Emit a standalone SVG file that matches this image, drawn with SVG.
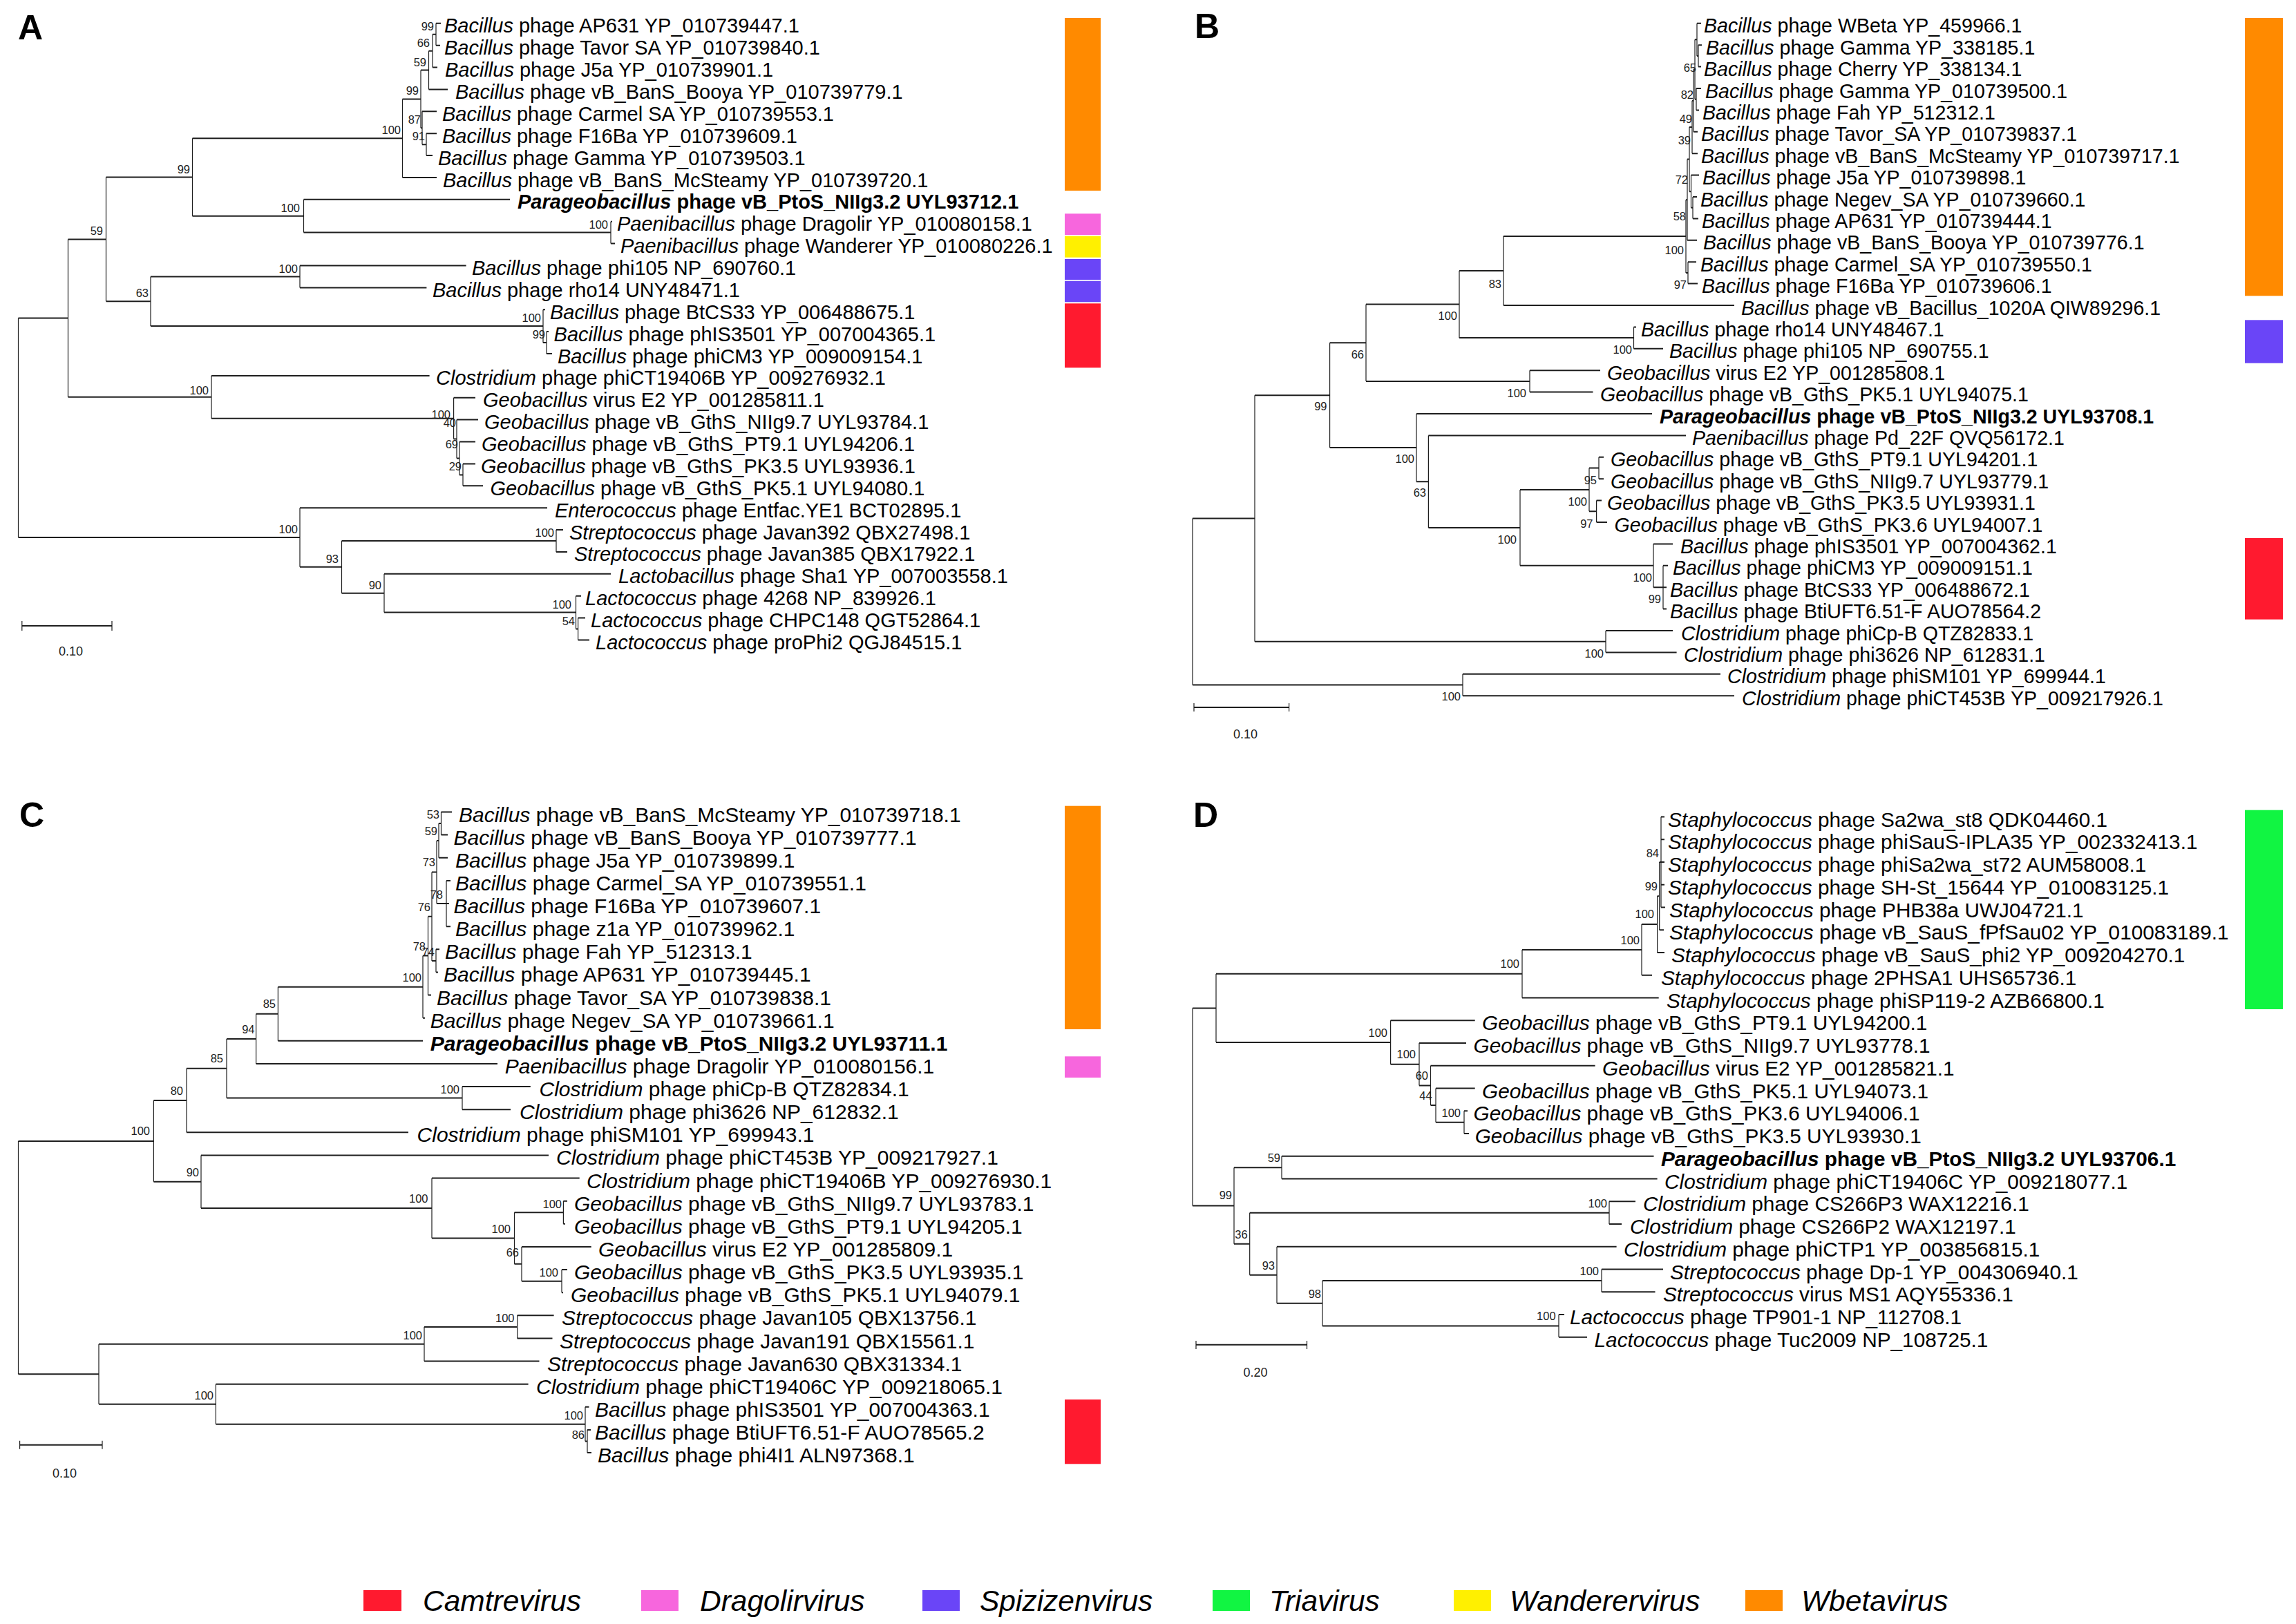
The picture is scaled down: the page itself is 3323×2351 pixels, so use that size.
<svg xmlns="http://www.w3.org/2000/svg" width="3323" height="2351" viewBox="0 0 3323 2351">
<style>
.h{stroke:#1e1e1e;stroke-width:2;fill:none}
.v{stroke:#1e1e1e;stroke-width:1.2;fill:none}
text{font-family:"Liberation Sans",Arial,sans-serif;fill:#000}
.la{font-size:29px}.lb{font-size:28.6px}.lc{font-size:30px}.ld{font-size:29.8px}
.i{font-style:italic}.b{font-weight:bold}
.bs{font-size:16.5px;text-anchor:end;fill:#222}
.sc{font-size:18px;text-anchor:middle;fill:#222}
.pl{font-size:50px;font-weight:bold}
.lg{font-size:42.5px;font-style:italic}
</style>
<rect width="3323" height="2351" fill="#fff"/>

<!-- ================= PANEL A ================= -->
<g id="panelA">
<text class="pl" x="26" y="57">A</text>
<g id="A-connectors">
<path class="h" d="M631 33.8H638M631 65.7H637M626 97.6H633M620.5 129.4H648M611 161.3H632M617 193.2H632M617 225.1H626M582.5 257H632M439.5 288.8H738M884 320.7H886M884 352.6H890M434 384.5H674.6M434 416.4H617.4M786 448.2H789M791 480.1H794M791 512H799M306 543.9H621.6M656.6 575.8H688M661 607.6H692M665 639.5H688M670 671.4H688M670 703.3H699M434 735.2H792M805 767H815M805 798.9H821M556 830.8H884M833.5 862.7H841M836.6 894.6H847M836.6 926.4H853
M626 49.75H631M620.5 73.7H626M609 101.5H620.5M611 209.2H617M609 185.2H611M582.5 143.4H609M278.5 200.2H582.5M439.5 336.6H884M278.5 312.7H439.5M153.5 256.5H278.5M218 400.5H434M786 496H791M218 472.1H786M153.5 436.3H218M98.5 346.4H153.5M665 687.4H670M661 663.5H665M656.6 635.6H661M306 605.7H656.6M98.5 574.8H306M26.5 460.6H98.5M833.5 910.5H836.6M556 886.6H833.5M494.5 783H805M494.5 858.7H556M434 820.8H494.5M26.5 778H434"/>
<path class="v" d="M631 33.8V65.7M626 49.75V97.6M620.5 73.7V129.4M617 193.2V225.1M611 161.3V209.2M609 101.5V185.2M582.5 143.4V257M884 320.7V352.6M439.5 288.8V336.6M278.5 200.2V312.7M434 384.5V416.4M791 480.1V512M786 448.2V496M218 400.5V472.1M153.5 256.5V436.3M670 671.4V703.3M665 639.5V687.4M661 607.6V663.5M656.6 575.8V635.6M306 543.9V605.7M98.5 346.4V574.8M836.6 894.6V926.4M833.5 862.7V910.5M805 767V798.9M556 830.8V886.6M494.5 783V858.7M434 735.2V820.8M26.5 460.6V778"/>
<path class="h" d="M31.8 906H162"/>
<path class="v" d="M31.8 899V913M162 899V913"/>
</g>
<text class="sc" x="102.5" y="949">0.10</text>
<g id="A-bootstrap">
<g id="A-n1"><text class="bs" x="628" y="43.7">99</text></g>
<g id="A-n2"><text class="bs" x="622" y="67.7">66</text></g>
<g id="A-n3"><text class="bs" x="617" y="95.5">59</text></g>
<g id="A-n4"><text class="bs" x="606" y="137.4">99</text></g>
<g id="A-n5"><text class="bs" x="609" y="179.2">87</text></g>
<g id="A-n6"><text class="bs" x="615" y="203.2">91</text></g>
<g id="A-n7"><text class="bs" x="580" y="194.2">100</text></g>
<g id="A-n8"><text class="bs" x="880" y="330.6">100</text></g>
<g id="A-n9"><text class="bs" x="434" y="306.7">100</text></g>
<g id="A-n10"><text class="bs" x="275" y="250.5">99</text></g>
<g id="A-n11"><text class="bs" x="431" y="394.5">100</text></g>
<g id="A-n12"><text class="bs" x="783" y="466.1">100</text></g>
<g id="A-n13"><text class="bs" x="789" y="490">99</text></g>
<g id="A-n14"><text class="bs" x="215" y="430.3">63</text></g>
<g id="A-n15"><text class="bs" x="149" y="340.4">59</text></g>
<g id="A-n16"><text class="bs" x="660" y="618">40</text></g>
<g id="A-n17"><text class="bs" x="663" y="649">69</text></g>
<g id="A-n18"><text class="bs" x="668" y="681.4">29</text></g>
<g id="A-n19"><text class="bs" x="652" y="606">100</text></g>
<g id="A-n20"><text class="bs" x="302" y="571">100</text></g>
<g id="A-n21"><text class="bs" x="832" y="904.5">54</text></g>
<g id="A-n22"><text class="bs" x="827" y="880.6">100</text></g>
<g id="A-n23"><text class="bs" x="802" y="777">100</text></g>
<g id="A-n24"><text class="bs" x="552" y="852.7">90</text></g>
<g id="A-n25"><text class="bs" x="490" y="814.8">93</text></g>
<g id="A-n26"><text class="bs" x="431" y="772">100</text></g>
</g>
<g id="A-leaves">
<g id="A-L0"><text class="la" x="643" y="47.3"><tspan class="i">Bacillus</tspan> phage AP631 YP_010739447.1</text></g>
<g id="A-L1"><text class="la" x="643" y="79.2"><tspan class="i">Bacillus</tspan> phage Tavor SA YP_010739840.1</text></g>
<g id="A-L2"><text class="la" x="644" y="111.1"><tspan class="i">Bacillus</tspan> phage J5a YP_010739901.1</text></g>
<g id="A-L3"><text class="la" x="659" y="142.9"><tspan class="i">Bacillus</tspan> phage vB_BanS_Booya YP_010739779.1</text></g>
<g id="A-L4"><text class="la" x="640" y="174.8"><tspan class="i">Bacillus</tspan> phage Carmel SA YP_010739553.1</text></g>
<g id="A-L5"><text class="la" x="640" y="206.7"><tspan class="i">Bacillus</tspan> phage F16Ba YP_010739609.1</text></g>
<g id="A-L6"><text class="la" x="634" y="238.6"><tspan class="i">Bacillus</tspan> phage Gamma YP_010739503.1</text></g>
<g id="A-L7"><text class="la" x="641" y="270.5"><tspan class="i">Bacillus</tspan> phage vB_BanS_McSteamy YP_010739720.1</text></g>
<g id="A-L8"><text class="la b" x="749" y="302.3"><tspan class="i">Parageobacillus</tspan> phage vB_PtoS_NIIg3.2 UYL93712.1</text></g>
<g id="A-L9"><text class="la" x="893" y="334.2"><tspan class="i">Paenibacillus</tspan> phage Dragolir YP_010080158.1</text></g>
<g id="A-L10"><text class="la" x="898" y="366.1"><tspan class="i">Paenibacillus</tspan> phage Wanderer YP_010080226.1</text></g>
<g id="A-L11"><text class="la" x="683" y="398"><tspan class="i">Bacillus</tspan> phage phi105 NP_690760.1</text></g>
<g id="A-L12"><text class="la" x="626" y="429.9"><tspan class="i">Bacillus</tspan> phage rho14 UNY48471.1</text></g>
<g id="A-L13"><text class="la" x="796" y="461.7"><tspan class="i">Bacillus</tspan> phage BtCS33 YP_006488675.1</text></g>
<g id="A-L14"><text class="la" x="801.6" y="493.6"><tspan class="i">Bacillus</tspan> phage phIS3501 YP_007004365.1</text></g>
<g id="A-L15"><text class="la" x="807" y="525.5"><tspan class="i">Bacillus</tspan> phage phiCM3 YP_009009154.1</text></g>
<g id="A-L16"><text class="la" x="631" y="557.4"><tspan class="i">Clostridium</tspan> phage phiCT19406B YP_009276932.1</text></g>
<g id="A-L17"><text class="la" x="699" y="589.3"><tspan class="i">Geobacillus</tspan> virus E2 YP_001285811.1</text></g>
<g id="A-L18"><text class="la" x="701" y="621.1"><tspan class="i">Geobacillus</tspan> phage vB_GthS_NIIg9.7 UYL93784.1</text></g>
<g id="A-L19"><text class="la" x="697" y="653"><tspan class="i">Geobacillus</tspan> phage vB_GthS_PT9.1 UYL94206.1</text></g>
<g id="A-L20"><text class="la" x="696" y="684.9"><tspan class="i">Geobacillus</tspan> phage vB_GthS_PK3.5 UYL93936.1</text></g>
<g id="A-L21"><text class="la" x="709.5" y="716.8"><tspan class="i">Geobacillus</tspan> phage vB_GthS_PK5.1 UYL94080.1</text></g>
<g id="A-L22"><text class="la" x="803" y="748.7"><tspan class="i">Enterococcus</tspan> phage Entfac.YE1 BCT02895.1</text></g>
<g id="A-L23"><text class="la" x="824" y="780.5"><tspan class="i">Streptococcus</tspan> phage Javan392 QBX27498.1</text></g>
<g id="A-L24"><text class="la" x="831" y="812.4"><tspan class="i">Streptococcus</tspan> phage Javan385 QBX17922.1</text></g>
<g id="A-L25"><text class="la" x="895" y="844.3"><tspan class="i">Lactobacillus</tspan> phage Sha1 YP_007003558.1</text></g>
<g id="A-L26"><text class="la" x="847" y="876.2"><tspan class="i">Lactococcus</tspan> phage 4268 NP_839926.1</text></g>
<g id="A-L27"><text class="la" x="855" y="908.1"><tspan class="i">Lactococcus</tspan> phage CHPC148 QGT52864.1</text></g>
<g id="A-L28"><text class="la" x="862" y="939.9"><tspan class="i">Lactococcus</tspan> phage proPhi2 QGJ84515.1</text></g>
</g>
<g id="A-bars">
<rect x="1541" y="26" width="52" height="250" fill="#FF8A00"/>
<rect x="1541" y="309.3" width="52" height="30.7" fill="#F766DD"/>
<rect x="1541" y="341.7" width="52" height="31" fill="#FFF000"/>
<rect x="1541" y="375" width="52" height="30" fill="#6A45F7"/>
<rect x="1541" y="406.7" width="52" height="30.6" fill="#6A45F7"/>
<rect x="1541" y="439.3" width="52" height="93" fill="#FF1A2F"/>
</g>
</g>

<!-- ================= PANEL B ================= -->
<g id="panelB">
<text class="pl" x="1729" y="55">B</text>
<g id="B-connectors">
<path class="h" d="M2456 33.8H2462M2458 65.2H2463M2458 96.6H2462M2455 128H2462M2455 159.4H2459M2451 190.8H2457M2449 222.2H2457M2447.5 253.6H2459M2450 285H2456M2450 316.4H2458M2442 347.8H2456M2443 379.2H2455M2443 410.6H2457M2176 442H2510M2364.5 473.4H2368M2364.5 504.8H2407M2214 536.2H2316M2214 567.6H2305.5M2050 599H2391M2067.4 630.4H2440M2314 661.8H2321M2314 693.2H2321M2310.6 724.6H2318M2310.6 756H2326M2393 787.4H2421M2407 818.8H2414M2407 850.2H2412M2407 881.6H2412M2324 913H2421M2324 944.4H2426.6M2117 975.8H2490M2117 1007.2H2510
M2456 80.9H2458M2453 57.35H2456M2453 143.7H2455M2451 100.5H2453M2449 145.7H2451M2445 184H2449M2447.5 300.7H2450M2445 277.2H2447.5M2442 230.6H2445M2440 289.2H2442M2440 394.9H2443M2176 342H2440M2112 392H2176M2112 489.1H2364.5M1977 440.6H2112M1977 551.9H2214M1924.6 496.2H1977M2300 677.5H2314M2300 740.3H2310.6M2200 708.9H2300M2393 850.2H2407M2200 818.8H2393M2067.4 763.9H2200M2050 697.2H2067.4M1924.6 648.1H2050M1816 572.2H1924.6M1816 928.7H2324M1726 750.5H1816M1726 991.5H2117"/>
<path class="v" d="M2458 65.2V96.6M2456 33.8V80.9M2455 128V159.4M2453 57.35V143.7M2451 100.5V190.8M2449 145.7V222.2M2450 285V316.4M2447.5 253.6V300.7M2445 184V277.2M2442 230.6V347.8M2443 379.2V410.6M2440 289.2V394.9M2176 342V442M2364.5 473.4V504.8M2112 392V489.1M2214 536.2V567.6M1977 440.6V551.9M2314 661.8V693.2M2310.6 724.6V756M2300 677.5V740.3M2407 818.8V881.6M2393 787.4V850.2M2200 708.9V818.8M2067.4 630.4V763.9M2050 599V697.2M1924.6 496.2V648.1M2324 913V944.4M1816 572.2V928.7M2117 975.8V1007.2M1726 750.5V991.5"/>
<path class="h" d="M1728 1024H1865.6"/>
<path class="v" d="M1728 1018V1030M1865.6 1018V1030"/>
</g>
<text class="sc" x="1802.5" y="1069">0.10</text>
<g id="B-bootstrap">
<g id="B-n1"><text class="bs" x="2455" y="103.7">65</text></g>
<g id="B-n2"><text class="bs" x="2451" y="142.7">82</text></g>
<g id="B-n3"><text class="bs" x="2449" y="177.7">49</text></g>
<g id="B-n4"><text class="bs" x="2447" y="209">39</text></g>
<g id="B-n5"><text class="bs" x="2443" y="266">72</text></g>
<g id="B-n6"><text class="bs" x="2440" y="319.3">58</text></g>
<g id="B-n7"><text class="bs" x="2437" y="367.7">100</text></g>
<g id="B-n8"><text class="bs" x="2441" y="417.7">97</text></g>
<g id="B-n9"><text class="bs" x="2173" y="417">83</text></g>
<g id="B-n10"><text class="bs" x="2109" y="463">100</text></g>
<g id="B-n11"><text class="bs" x="2362" y="511.7">100</text></g>
<g id="B-n12"><text class="bs" x="1974" y="518.7">66</text></g>
<g id="B-n13"><text class="bs" x="2209" y="575">100</text></g>
<g id="B-n14"><text class="bs" x="1920.5" y="594">99</text></g>
<g id="B-n15"><text class="bs" x="2047" y="670">100</text></g>
<g id="B-n16"><text class="bs" x="2064" y="719">63</text></g>
<g id="B-n17"><text class="bs" x="2297" y="732">100</text></g>
<g id="B-n18"><text class="bs" x="2311" y="701">95</text></g>
<g id="B-n19"><text class="bs" x="2305.5" y="763.7">97</text></g>
<g id="B-n20"><text class="bs" x="2195" y="786.7">100</text></g>
<g id="B-n21"><text class="bs" x="2391" y="842">100</text></g>
<g id="B-n22"><text class="bs" x="2404" y="873">99</text></g>
<g id="B-n23"><text class="bs" x="2321" y="952">100</text></g>
<g id="B-n24"><text class="bs" x="2114" y="1014">100</text></g>
</g>
<g id="B-leaves">
<g id="B-L0"><text class="lb" x="2466" y="47.3"><tspan class="i">Bacillus</tspan> phage WBeta YP_459966.1</text></g>
<g id="B-L1"><text class="lb" x="2469" y="78.7"><tspan class="i">Bacillus</tspan> phage Gamma YP_338185.1</text></g>
<g id="B-L2"><text class="lb" x="2466" y="110.1"><tspan class="i">Bacillus</tspan> phage Cherry YP_338134.1</text></g>
<g id="B-L3"><text class="lb" x="2468" y="141.5"><tspan class="i">Bacillus</tspan> phage Gamma YP_010739500.1</text></g>
<g id="B-L4"><text class="lb" x="2464" y="172.9"><tspan class="i">Bacillus</tspan> phage Fah YP_512312.1</text></g>
<g id="B-L5"><text class="lb" x="2462" y="204.3"><tspan class="i">Bacillus</tspan> phage Tavor_SA YP_010739837.1</text></g>
<g id="B-L6"><text class="lb" x="2462" y="235.7"><tspan class="i">Bacillus</tspan> phage vB_BanS_McSteamy YP_010739717.1</text></g>
<g id="B-L7"><text class="lb" x="2464" y="267.1"><tspan class="i">Bacillus</tspan> phage J5a YP_010739898.1</text></g>
<g id="B-L8"><text class="lb" x="2461" y="298.5"><tspan class="i">Bacillus</tspan> phage Negev_SA YP_010739660.1</text></g>
<g id="B-L9"><text class="lb" x="2463" y="329.9"><tspan class="i">Bacillus</tspan> phage AP631 YP_010739444.1</text></g>
<g id="B-L10"><text class="lb" x="2465" y="361.3"><tspan class="i">Bacillus</tspan> phage vB_BanS_Booya YP_010739776.1</text></g>
<g id="B-L11"><text class="lb" x="2461" y="392.7"><tspan class="i">Bacillus</tspan> phage Carmel_SA YP_010739550.1</text></g>
<g id="B-L12"><text class="lb" x="2463" y="424.1"><tspan class="i">Bacillus</tspan> phage F16Ba YP_010739606.1</text></g>
<g id="B-L13"><text class="lb" x="2520" y="455.5"><tspan class="i">Bacillus</tspan> phage vB_Bacillus_1020A QIW89296.1</text></g>
<g id="B-L14"><text class="lb" x="2375" y="486.9"><tspan class="i">Bacillus</tspan> phage rho14 UNY48467.1</text></g>
<g id="B-L15"><text class="lb" x="2416" y="518.3"><tspan class="i">Bacillus</tspan> phage phi105 NP_690755.1</text></g>
<g id="B-L16"><text class="lb" x="2326" y="549.7"><tspan class="i">Geobacillus</tspan> virus E2 YP_001285808.1</text></g>
<g id="B-L17"><text class="lb" x="2316" y="581.1"><tspan class="i">Geobacillus</tspan> phage vB_GthS_PK5.1 UYL94075.1</text></g>
<g id="B-L18"><text class="lb b" x="2402" y="612.5"><tspan class="i">Parageobacillus</tspan> phage vB_PtoS_NIIg3.2 UYL93708.1</text></g>
<g id="B-L19"><text class="lb" x="2449" y="643.9"><tspan class="i">Paenibacillus</tspan> phage Pd_22F QVQ56172.1</text></g>
<g id="B-L20"><text class="lb" x="2331" y="675.3"><tspan class="i">Geobacillus</tspan> phage vB_GthS_PT9.1 UYL94201.1</text></g>
<g id="B-L21"><text class="lb" x="2331" y="706.7"><tspan class="i">Geobacillus</tspan> phage vB_GthS_NIIg9.7 UYL93779.1</text></g>
<g id="B-L22"><text class="lb" x="2326" y="738.1"><tspan class="i">Geobacillus</tspan> phage vB_GthS_PK3.5 UYL93931.1</text></g>
<g id="B-L23"><text class="lb" x="2336.5" y="769.5"><tspan class="i">Geobacillus</tspan> phage vB_GthS_PK3.6 UYL94007.1</text></g>
<g id="B-L24"><text class="lb" x="2432" y="800.9"><tspan class="i">Bacillus</tspan> phage phIS3501 YP_007004362.1</text></g>
<g id="B-L25"><text class="lb" x="2421" y="832.3"><tspan class="i">Bacillus</tspan> phage phiCM3 YP_009009151.1</text></g>
<g id="B-L26"><text class="lb" x="2417" y="863.7"><tspan class="i">Bacillus</tspan> phage BtCS33 YP_006488672.1</text></g>
<g id="B-L27"><text class="lb" x="2417" y="895.1"><tspan class="i">Bacillus</tspan> phage BtiUFT6.51-F AUO78564.2</text></g>
<g id="B-L28"><text class="lb" x="2433" y="926.5"><tspan class="i">Clostridium</tspan> phage phiCp-B QTZ82833.1</text></g>
<g id="B-L29"><text class="lb" x="2437" y="957.9"><tspan class="i">Clostridium</tspan> phage phi3626 NP_612831.1</text></g>
<g id="B-L30"><text class="lb" x="2500" y="989.3"><tspan class="i">Clostridium</tspan> phage phiSM101 YP_699944.1</text></g>
<g id="B-L31"><text class="lb" x="2521" y="1020.7"><tspan class="i">Clostridium</tspan> phage phiCT453B YP_009217926.1</text></g>
</g>
<g id="B-bars">
<rect x="3249" y="26" width="55" height="402.3" fill="#FF8A00"/>
<rect x="3249" y="463.3" width="55" height="62.4" fill="#6A45F7"/>
<rect x="3249" y="779" width="55" height="117.7" fill="#FF1A2F"/>
</g>
</g>

<!-- ================= PANEL C ================= -->
<g id="panelC">
<text class="pl" x="28" y="1197">C</text>
<g id="C-connectors">
<path class="h" d="M638.5 1175.5H654M638.5 1208.6H648M635 1241.8H648M646 1274.9H652M646 1308H650M646 1341.2H652M631 1374.3H636M631 1407.4H634M619.5 1440.5H624M612 1473.7H615M402.4 1506.8H612M370.6 1539.9H720M669 1573H767.8M669 1606.2H739M270 1639.3H591M291 1672.4H794M625 1705.6H838.7M815.4 1738.7H821M815.4 1771.8H818M755 1804.9H855.7M813 1838.1H821M813 1871.2H815M748.7 1904.3H801.6M748.7 1937.5H799.5M614 1970.6H780.5M312.4 2003.7H764.6M847 2036.8H852.5M850 2070H855M850 2103.1H856
M635 1192.1H638.5M632 1217H635M632 1308.1H646M625 1262.5H632M625 1390.9H631M619.5 1326.7H625M612 1383.6H619.5M402.4 1428.7H612M370.6 1467.8H402.4M328 1503.9H370.6M328 1589.6H669M270 1546.8H328M222.4 1593H270M755 1854.7H813M744.5 1829.8H755M744.5 1755.3H815.4M625 1792.6H744.5M291 1749.1H625M222.4 1710.8H291M26.5 1651.9H222.4M614 1920.9H748.7M143 1945.8H614M847 2086.6H850M312.4 2061.7H847M143 2032.7H312.4M26.5 1989.3H143"/>
<path class="v" d="M638.5 1175.5V1208.6M635 1192.1V1241.8M646 1274.9V1341.2M632 1217V1308.1M631 1374.3V1407.4M625 1262.5V1390.9M619.5 1326.7V1440.5M612 1383.6V1473.7M402.4 1428.7V1506.8M370.6 1467.8V1539.9M669 1573V1606.2M328 1503.9V1589.6M270 1546.8V1639.3M813 1838.1V1871.2M755 1804.9V1854.7M815.4 1738.7V1771.8M744.5 1755.3V1829.8M625 1705.6V1792.6M291 1672.4V1749.1M222.4 1593V1710.8M748.7 1904.3V1937.5M614 1920.9V1970.6M850 2070V2103.1M847 2036.8V2086.6M312.4 2003.7V2061.7M143 1945.8V2032.7M26.5 1651.9V1989.3"/>
<path class="h" d="M28.6 2091.7H148"/>
<path class="v" d="M28.6 2085.7V2097.7M148 2085.7V2097.7"/>
</g>
<text class="sc" x="93.5" y="2139">0.10</text>
<g id="C-bootstrap">
<g id="C-n1"><text class="bs" x="636" y="1185">53</text></g>
<g id="C-n2"><text class="bs" x="633" y="1209">59</text></g>
<g id="C-n3"><text class="bs" x="630" y="1254">73</text></g>
<g id="C-n4"><text class="bs" x="641" y="1301">78</text></g>
<g id="C-n5"><text class="bs" x="623" y="1319">76</text></g>
<g id="C-n6"><text class="bs" x="616" y="1376">78</text></g>
<g id="C-n7"><text class="bs" x="629" y="1384">74</text></g>
<g id="C-n8"><text class="bs" x="610" y="1421">100</text></g>
<g id="C-n9"><text class="bs" x="399" y="1459">85</text></g>
<g id="C-n10"><text class="bs" x="368.5" y="1496">94</text></g>
<g id="C-n11"><text class="bs" x="323" y="1537.7">85</text></g>
<g id="C-n12"><text class="bs" x="665" y="1583">100</text></g>
<g id="C-n13"><text class="bs" x="265" y="1585">80</text></g>
<g id="C-n14"><text class="bs" x="217" y="1642.7">100</text></g>
<g id="C-n15"><text class="bs" x="288" y="1702.7">90</text></g>
<g id="C-n16"><text class="bs" x="619.5" y="1741">100</text></g>
<g id="C-n17"><text class="bs" x="813" y="1749">100</text></g>
<g id="C-n18"><text class="bs" x="739" y="1785">100</text></g>
<g id="C-n19"><text class="bs" x="751" y="1819">66</text></g>
<g id="C-n20"><text class="bs" x="808" y="1848">100</text></g>
<g id="C-n21"><text class="bs" x="744.5" y="1914">100</text></g>
<g id="C-n22"><text class="bs" x="611" y="1939">100</text></g>
<g id="C-n23"><text class="bs" x="309" y="2026">100</text></g>
<g id="C-n24"><text class="bs" x="844" y="2055">100</text></g>
<g id="C-n25"><text class="bs" x="846" y="2083">86</text></g>
</g>
<g id="C-leaves">
<g id="C-L0"><text class="lc" x="664" y="1189.5"><tspan class="i">Bacillus</tspan> phage vB_BanS_McSteamy YP_010739718.1</text></g>
<g id="C-L1"><text class="lc" x="656.6" y="1222.6"><tspan class="i">Bacillus</tspan> phage vB_BanS_Booya YP_010739777.1</text></g>
<g id="C-L2"><text class="lc" x="659" y="1255.8"><tspan class="i">Bacillus</tspan> phage J5a YP_010739899.1</text></g>
<g id="C-L3"><text class="lc" x="659" y="1288.9"><tspan class="i">Bacillus</tspan> phage Carmel_SA YP_010739551.1</text></g>
<g id="C-L4"><text class="lc" x="656.6" y="1322"><tspan class="i">Bacillus</tspan> phage F16Ba YP_010739607.1</text></g>
<g id="C-L5"><text class="lc" x="659" y="1355.2"><tspan class="i">Bacillus</tspan> phage z1a YP_010739962.1</text></g>
<g id="C-L6"><text class="lc" x="644" y="1388.3"><tspan class="i">Bacillus</tspan> phage Fah YP_512313.1</text></g>
<g id="C-L7"><text class="lc" x="642" y="1421.4"><tspan class="i">Bacillus</tspan> phage AP631 YP_010739445.1</text></g>
<g id="C-L8"><text class="lc" x="632" y="1454.5"><tspan class="i">Bacillus</tspan> phage Tavor_SA YP_010739838.1</text></g>
<g id="C-L9"><text class="lc" x="622.7" y="1487.7"><tspan class="i">Bacillus</tspan> phage Negev_SA YP_010739661.1</text></g>
<g id="C-L10"><text class="lc b" x="622.7" y="1520.8"><tspan class="i">Parageobacillus</tspan> phage vB_PtoS_NIIg3.2 UYL93711.1</text></g>
<g id="C-L11"><text class="lc" x="730.7" y="1553.9"><tspan class="i">Paenibacillus</tspan> phage Dragolir YP_010080156.1</text></g>
<g id="C-L12"><text class="lc" x="780.5" y="1587"><tspan class="i">Clostridium</tspan> phage phiCp-B QTZ82834.1</text></g>
<g id="C-L13"><text class="lc" x="752" y="1620.2"><tspan class="i">Clostridium</tspan> phage phi3626 NP_612832.1</text></g>
<g id="C-L14"><text class="lc" x="603.6" y="1653.3"><tspan class="i">Clostridium</tspan> phage phiSM101 YP_699943.1</text></g>
<g id="C-L15"><text class="lc" x="805" y="1686.4"><tspan class="i">Clostridium</tspan> phage phiCT453B YP_009217927.1</text></g>
<g id="C-L16"><text class="lc" x="849" y="1719.6"><tspan class="i">Clostridium</tspan> phage phiCT19406B YP_009276930.1</text></g>
<g id="C-L17"><text class="lc" x="831" y="1752.7"><tspan class="i">Geobacillus</tspan> phage vB_GthS_NIIg9.7 UYL93783.1</text></g>
<g id="C-L18"><text class="lc" x="831" y="1785.8"><tspan class="i">Geobacillus</tspan> phage vB_GthS_PT9.1 UYL94205.1</text></g>
<g id="C-L19"><text class="lc" x="866" y="1818.9"><tspan class="i">Geobacillus</tspan> virus E2 YP_001285809.1</text></g>
<g id="C-L20"><text class="lc" x="831" y="1852.1"><tspan class="i">Geobacillus</tspan> phage vB_GthS_PK3.5 UYL93935.1</text></g>
<g id="C-L21"><text class="lc" x="826" y="1885.2"><tspan class="i">Geobacillus</tspan> phage vB_GthS_PK5.1 UYL94079.1</text></g>
<g id="C-L22"><text class="lc" x="813" y="1918.3"><tspan class="i">Streptococcus</tspan> phage Javan105 QBX13756.1</text></g>
<g id="C-L23"><text class="lc" x="810" y="1951.5"><tspan class="i">Streptococcus</tspan> phage Javan191 QBX15561.1</text></g>
<g id="C-L24"><text class="lc" x="792" y="1984.6"><tspan class="i">Streptococcus</tspan> phage Javan630 QBX31334.1</text></g>
<g id="C-L25"><text class="lc" x="776" y="2017.7"><tspan class="i">Clostridium</tspan> phage phiCT19406C YP_009218065.1</text></g>
<g id="C-L26"><text class="lc" x="861" y="2050.8"><tspan class="i">Bacillus</tspan> phage phIS3501 YP_007004363.1</text></g>
<g id="C-L27"><text class="lc" x="861" y="2084"><tspan class="i">Bacillus</tspan> phage BtiUFT6.51-F AUO78565.2</text></g>
<g id="C-L28"><text class="lc" x="865" y="2117.1"><tspan class="i">Bacillus</tspan> phage phi4I1 ALN97368.1</text></g>
</g>
<g id="C-bars">
<rect x="1541" y="1166.7" width="52" height="323.3" fill="#FF8A00"/>
<rect x="1541" y="1529.3" width="52" height="30.7" fill="#F766DD"/>
<rect x="1541" y="2026" width="52" height="93.3" fill="#FF1A2F"/>
</g>
</g>

<!-- ================= PANEL D ================= -->
<g id="panelD">
<text class="pl" x="1727" y="1197">D</text>
<g id="D-connectors">
<path class="h" d="M2404 1182.5H2409M2404 1215.3H2409M2404 1248H2409M2404 1280.8H2409M2404 1313.5H2410M2401.7 1346.3H2408M2398.6 1379H2409M2376 1411.8H2391M2203 1444.5H2400.7M2012.6 1477.3H2134.7M2054 1510H2122M2070.5 1542.8H2308.6M2078 1575.5H2134.7M2119 1608.3H2124M2119 1641H2126M1855 1673.8H2393.5M1855 1706.5H2398.6M2329 1739.3H2367M2329 1772H2347M1848 1804.8H2339.6M2318 1837.5H2407M2318 1870.3H2395.5M2256 1903H2264M2256 1935.8H2297
M2401.7 1248H2404M2398.6 1297.2H2401.7M2376 1338.1H2398.6M2203 1375H2376M1760 1409.8H2203M2078 1624.7H2119M2070.5 1600.1H2078M2054 1571.5H2070.5M2012.6 1540.8H2054M1760 1509H2012.6M1726 1459.4H1760M1786 1690.2H1855M1808.7 1755.7H2329M1914 1853.9H2318M1914 1919.4H2256M1848 1886.7H1914M1808.7 1845.8H1848M1786 1800.8H1808.7M1726 1745.5H1786"/>
<path class="v" d="M2404 1182.5V1313.5M2401.7 1248V1346.3M2398.6 1297.2V1379M2376 1338.1V1411.8M2203 1375V1444.5M2119 1608.3V1641M2078 1575.5V1624.7M2070.5 1542.8V1600.1M2054 1510V1571.5M2012.6 1477.3V1540.8M1760 1409.8V1509M1855 1673.8V1706.5M2329 1739.3V1772M2318 1837.5V1870.3M2256 1903V1935.8M1914 1853.9V1919.4M1848 1804.8V1886.7M1808.7 1755.7V1845.8M1786 1690.2V1800.8M1726 1459.4V1745.5"/>
<path class="h" d="M1731 1946.7H1891.5"/>
<path class="v" d="M1731 1941V1953M1891.5 1941V1953"/>
</g>
<text class="sc" x="1817" y="1993">0.20</text>
<g id="D-bootstrap">
<g id="D-n1"><text class="bs" x="2401" y="1241">84</text></g>
<g id="D-n2"><text class="bs" x="2399" y="1289">99</text></g>
<g id="D-n3"><text class="bs" x="2394" y="1329">100</text></g>
<g id="D-n4"><text class="bs" x="2373" y="1367">100</text></g>
<g id="D-n5"><text class="bs" x="2199" y="1401">100</text></g>
<g id="D-n6"><text class="bs" x="2008" y="1501">100</text></g>
<g id="D-n7"><text class="bs" x="2049" y="1532">100</text></g>
<g id="D-n8"><text class="bs" x="2067" y="1563">60</text></g>
<g id="D-n9"><text class="bs" x="2072.6" y="1592">44</text></g>
<g id="D-n10"><text class="bs" x="2114" y="1617">100</text></g>
<g id="D-n11"><text class="bs" x="1853" y="1682">59</text></g>
<g id="D-n12"><text class="bs" x="1783" y="1736">99</text></g>
<g id="D-n13"><text class="bs" x="2326" y="1748">100</text></g>
<g id="D-n14"><text class="bs" x="1805.6" y="1793">36</text></g>
<g id="D-n15"><text class="bs" x="1845" y="1838">93</text></g>
<g id="D-n16"><text class="bs" x="2314" y="1846">100</text></g>
<g id="D-n17"><text class="bs" x="1912" y="1879">98</text></g>
<g id="D-n18"><text class="bs" x="2251.6" y="1911">100</text></g>
</g>
<g id="D-leaves">
<g id="D-L0"><text class="ld" x="2414" y="1196.5"><tspan class="i">Staphylococcus</tspan> phage Sa2wa_st8 QDK04460.1</text></g>
<g id="D-L1"><text class="ld" x="2414" y="1229.3"><tspan class="i">Staphylococcus</tspan> phage phiSauS-IPLA35 YP_002332413.1</text></g>
<g id="D-L2"><text class="ld" x="2414" y="1262"><tspan class="i">Staphylococcus</tspan> phage phiSa2wa_st72 AUM58008.1</text></g>
<g id="D-L3"><text class="ld" x="2414" y="1294.8"><tspan class="i">Staphylococcus</tspan> phage SH-St_15644 YP_010083125.1</text></g>
<g id="D-L4"><text class="ld" x="2416" y="1327.5"><tspan class="i">Staphylococcus</tspan> phage PHB38a UWJ04721.1</text></g>
<g id="D-L5"><text class="ld" x="2416" y="1360.3"><tspan class="i">Staphylococcus</tspan> phage vB_SauS_fPfSau02 YP_010083189.1</text></g>
<g id="D-L6"><text class="ld" x="2419" y="1393"><tspan class="i">Staphylococcus</tspan> phage vB_SauS_phi2 YP_009204270.1</text></g>
<g id="D-L7"><text class="ld" x="2404" y="1425.8"><tspan class="i">Staphylococcus</tspan> phage 2PHSA1 UHS65736.1</text></g>
<g id="D-L8"><text class="ld" x="2412" y="1458.5"><tspan class="i">Staphylococcus</tspan> phage phiSP119-2 AZB66800.1</text></g>
<g id="D-L9"><text class="ld" x="2145" y="1491.3"><tspan class="i">Geobacillus</tspan> phage vB_GthS_PT9.1 UYL94200.1</text></g>
<g id="D-L10"><text class="ld" x="2132.6" y="1524"><tspan class="i">Geobacillus</tspan> phage vB_GthS_NIIg9.7 UYL93778.1</text></g>
<g id="D-L11"><text class="ld" x="2319" y="1556.8"><tspan class="i">Geobacillus</tspan> virus E2 YP_001285821.1</text></g>
<g id="D-L12"><text class="ld" x="2145" y="1589.5"><tspan class="i">Geobacillus</tspan> phage vB_GthS_PK5.1 UYL94073.1</text></g>
<g id="D-L13"><text class="ld" x="2132.6" y="1622.3"><tspan class="i">Geobacillus</tspan> phage vB_GthS_PK3.6 UYL94006.1</text></g>
<g id="D-L14"><text class="ld" x="2134.7" y="1655"><tspan class="i">Geobacillus</tspan> phage vB_GthS_PK3.5 UYL93930.1</text></g>
<g id="D-L15"><text class="ld b" x="2404" y="1687.8"><tspan class="i">Parageobacillus</tspan> phage vB_PtoS_NIIg3.2 UYL93706.1</text></g>
<g id="D-L16"><text class="ld" x="2409" y="1720.5"><tspan class="i">Clostridium</tspan> phage phiCT19406C YP_009218077.1</text></g>
<g id="D-L17"><text class="ld" x="2378" y="1753.3"><tspan class="i">Clostridium</tspan> phage CS266P3 WAX12216.1</text></g>
<g id="D-L18"><text class="ld" x="2359" y="1786"><tspan class="i">Clostridium</tspan> phage CS266P2 WAX12197.1</text></g>
<g id="D-L19"><text class="ld" x="2350" y="1818.8"><tspan class="i">Clostridium</tspan> phage phiCTP1 YP_003856815.1</text></g>
<g id="D-L20"><text class="ld" x="2417" y="1851.5"><tspan class="i">Streptococcus</tspan> phage Dp-1 YP_004306940.1</text></g>
<g id="D-L21"><text class="ld" x="2407" y="1884.3"><tspan class="i">Streptococcus</tspan> virus MS1 AQY55336.1</text></g>
<g id="D-L22"><text class="ld" x="2272" y="1917"><tspan class="i">Lactococcus</tspan> phage TP901-1 NP_112708.1</text></g>
<g id="D-L23"><text class="ld" x="2307.5" y="1949.8"><tspan class="i">Lactococcus</tspan> phage Tuc2009 NP_108725.1</text></g>
</g>
<g id="D-bars">
<rect x="3249" y="1172.7" width="55" height="288.3" fill="#11F542"/>
</g>
</g>

<!-- ================= LEGEND ================= -->
<g id="legend">
<g id="lg-camtrevirus"><rect x="526" y="2302" width="55" height="30" fill="#FF1A2F"/><text class="lg" x="612" y="2332">Camtrevirus</text></g>
<g id="lg-dragolirvirus"><rect x="928" y="2302" width="54" height="30" fill="#F766DD"/><text class="lg" x="1013" y="2332">Dragolirvirus</text></g>
<g id="lg-spizizenvirus"><rect x="1335" y="2302" width="54" height="30" fill="#6A45F7"/><text class="lg" x="1418" y="2332">Spizizenvirus</text></g>
<g id="lg-triavirus"><rect x="1755" y="2302" width="54" height="30" fill="#11F542"/><text class="lg" x="1837" y="2332">Triavirus</text></g>
<g id="lg-wanderervirus"><rect x="2104" y="2302" width="54" height="30" fill="#FFF000"/><text class="lg" x="2185" y="2332">Wanderervirus</text></g>
<g id="lg-wbetavirus"><rect x="2526" y="2302" width="54" height="30" fill="#FF8A00"/><text class="lg" x="2607" y="2332">Wbetavirus</text></g>
</g>
</svg>
